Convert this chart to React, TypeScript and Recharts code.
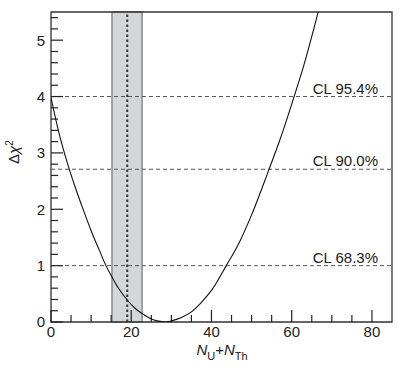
import {
  ComposedChart,
  Line,
  XAxis,
  YAxis,
  ReferenceArea,
  ReferenceLine,
} from "recharts";

// chi-square scan
const nTotal = [0, 2, 4.6, 6, 8.1, 10, 12, 13.7, 15.2, 17, 19, 21, 22.7, 25, 26.5, 28.5, 30, 32.5, 35, 37.5, 40, 43.7, 47, 50, 54.3, 57, 60.6, 63, 66.6];
const deltaChi2 = [3.98, 3.35, 2.7, 2.4, 1.98, 1.62, 1.28, 1.0, 0.8, 0.58, 0.39, 0.24, 0.15, 0.055, 0.02, 0, 0.02, 0.08, 0.18, 0.35, 0.56, 1.0, 1.42, 1.9, 2.7, 3.22, 4.0, 4.55, 5.5];

// confidence levels
const clValues = [4.0, 2.71, 1.0];
const clLabels = ["CL 95.4%", "CL 90.0%", "CL 68.3%"];

// expected value and its band
const bandRange = [15.2, 22.7];
const expected = 19;

// axes
const xDomain = [0, 85];
const yDomain = [0, 5.5];
const xMinorTicks = [5, 10, 15, 25, 30, 35, 45, 50, 55, 65, 70, 75];
const xMajorTicks = [0, 20, 40, 60, 80];
const yMinorTicks = [0.2, 0.4, 0.6, 0.8, 1.2, 1.4, 1.6, 1.8, 2.2, 2.4, 2.6, 2.8, 3.2, 3.4, 3.6, 3.8, 4.2, 4.4, 4.6, 4.8, 5.2, 5.4];
const yMajorTicks = [0, 1, 2, 3, 4, 5];

const data = nTotal.map((n, i) => ({ n, chi2: deltaChi2[i] }));

const FONT = '"Liberation Sans", Arial, sans-serif';
const INK = "#222";
const tickFont = { fontSize: 15, fill: "#222", fontFamily: FONT };

// inward tick marks: pixel lengths turned into axis units
const PLOT_W = 341;
const PLOT_H = 310;
const xSpan = xDomain[1] - xDomain[0];
const ySpan = yDomain[1] - yDomain[0];
const tickUp = (px: number) => (px / PLOT_H) * ySpan;
const tickRight = (px: number) => (px / PLOT_W) * xSpan;

function ClLabel(props: any) {
  const { viewBox, value } = props;
  return (
    <text
      x={viewBox.x + viewBox.width - 14}
      y={viewBox.y - 3}
      textAnchor="end"
      fontSize={15}
      fontFamily={FONT}
      fill="#222"
    >
      {value}
    </text>
  );
}

export default function App() {
  const xTickMarks = [
    ...xMinorTicks.map((v) => ({ v, len: tickUp(7) })),
    ...xMajorTicks.map((v) => ({ v, len: tickUp(12) })),
  ];
  const yTickMarks = [
    ...yMinorTicks.map((v) => ({ v, len: tickRight(7) })),
    ...yMajorTicks.map((v) => ({ v, len: tickRight(12) })),
  ];

  return (
    <div style={{ position: "absolute", left: 0, top: 0, width: 415, height: 371, background: "#fff" }}>
      <ComposedChart width={415} height={371} data={data} margin={{ top: 12, right: 23, bottom: 0, left: 0 }}>
        <XAxis
          type="number"
          dataKey="n"
          domain={xDomain}
          ticks={xMajorTicks}
          interval={0}
          allowDataOverflow
          height={49}
          tickSize={0}
          tickMargin={4}
          axisLine={false}
          tickLine={false}
          tick={tickFont}
        />
        <YAxis
          type="number"
          domain={yDomain}
          ticks={yMajorTicks}
          interval={0}
          allowDataOverflow
          width={51}
          tickSize={0}
          tickMargin={6}
          axisLine={false}
          tickLine={false}
          tick={tickFont}
        />
        <ReferenceArea
          x1={bandRange[0]}
          x2={bandRange[1]}
          y1={yDomain[0]}
          y2={yDomain[1]}
          fill="#d4d6da"
          fillOpacity={1}
          stroke="#8a8a8a"
          strokeWidth={1.5}
        />
        <ReferenceLine x={expected} stroke="#333" strokeWidth={2} strokeDasharray="2.5 2.5" />
        {clValues.map((v, i) => (
          <ReferenceLine
            key={v}
            y={v}
            stroke="#555"
            strokeWidth={1}
            strokeDasharray="4 3"
            label={<ClLabel value={clLabels[i]} />}
          />
        ))}
        {xTickMarks.map((t) => (
          <ReferenceLine
            key={`xt${t.v}`}
            segment={[{ x: t.v, y: yDomain[0] }, { x: t.v, y: yDomain[0] + t.len }]}
            ifOverflow="visible"
            stroke={INK}
            strokeWidth={1.2}
          />
        ))}
        {yTickMarks.map((t) => (
          <ReferenceLine
            key={`yt${t.v}`}
            segment={[{ x: xDomain[0], y: t.v }, { x: xDomain[0] + t.len, y: t.v }]}
            ifOverflow="visible"
            stroke={INK}
            strokeWidth={1.2}
          />
        ))}
        <Line
          type="monotone"
          dataKey="chi2"
          stroke="#111"
          strokeWidth={1.1}
          dot={false}
          isAnimationActive={false}
        />
        <ReferenceArea
          x1={xDomain[0]}
          x2={xDomain[1]}
          y1={yDomain[0]}
          y2={yDomain[1]}
          fill="none"
          stroke="#333"
          strokeWidth={1.3}
        />
      </ComposedChart>
      <svg width={415} height={371} style={{ position: "absolute", left: 0, top: 0, pointerEvents: "none" }}>
        <text
          x={19}
          y={152}
          transform="rotate(-90 19 152)"
          textAnchor="middle"
          fontSize={15}
          fontFamily={FONT}
          fill="#222"
        >
          Δ<tspan fontStyle="italic">χ</tspan>
          <tspan dy={-6} fontSize={10}>2</tspan>
        </text>
        <text x={222} y={355} textAnchor="middle" fontSize={15} fontFamily={FONT} fill="#222">
          <tspan fontStyle="italic">N</tspan>
          <tspan dy={5} fontSize={11}>U</tspan>
          <tspan dy={-5}>+</tspan>
          <tspan fontStyle="italic">N</tspan>
          <tspan dy={5} fontSize={11}>Th</tspan>
        </text>
      </svg>
    </div>
  );
}
